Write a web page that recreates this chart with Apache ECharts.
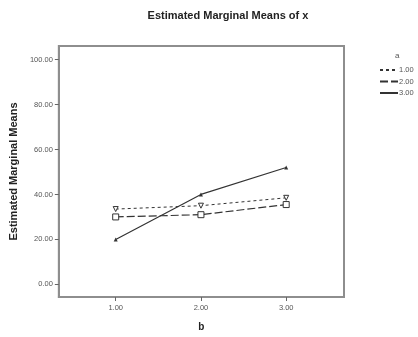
<!DOCTYPE html>
<html>
<head>
<meta charset="utf-8">
<script src="https://cdn.jsdelivr.net/npm/echarts@6/dist/echarts.min.js"></script>
<style>
html, body { margin: 0; padding: 0; background: #fff; }
#main { width: 418px; height: 337px; }
</style>
</head>
<body>
<div id="main"></div>
<script>
// levels of b on the x axis
var bLevels = [1, 2, 3];
var yTicks = [0, 20, 40, 60, 80, 100];
// estimated marginal means per level of a
var seriesNames = ['1.00', '2.00', '3.00'];
var means_a1 = [33.5, 35, 38.5];
var means_a2 = [30, 31, 35.5];
var means_a3 = [20, 40, 52];

function pairs(vals) {
    return bLevels.map(function (b, i) { return [b, vals[i]]; });
}

var dom = document.getElementById('main');
var myChart = echarts.init(dom);
var lineColor = '#333333';
var frameColor = '#8e8e8e';
var font = 'Liberation Sans, Arial, sans-serif';

var option = {
    animation: false,
    backgroundColor: '#fff',
    title: {
        text: 'Estimated Marginal Means of x',
        left: 228,
        textAlign: 'center',
        top: 10,
        padding: 0,
        textStyle: { fontFamily: font, fontSize: 11, fontWeight: 'bold', color: '#222' }
    },
    grid: {
        left: 54, top: 46, width: 290, height: 261,
        show: true, borderColor: frameColor, borderWidth: 2
    },
    legend: {
        orient: 'vertical',
        left: 379,
        top: 66,
        padding: 0,
        itemWidth: 18,
        itemHeight: 7,
        itemGap: 3.5,
        itemStyle: { opacity: 0 },
        textStyle: { fontFamily: font, fontSize: 7.5, color: '#555', padding: [0, 0, 0, -4] },
        data: seriesNames
    },
    graphic: [{
        type: 'text',
        left: 395,
        top: 52,
        style: { text: 'a', fontFamily: font, fontSize: 8, fill: '#555' }
    }],
    xAxis: {
        type: 'value',
        min: 0.333,
        max: 3.678,
        name: 'b',
        nameLocation: 'middle',
        nameGap: 25,
        nameTextStyle: { fontFamily: font, fontSize: 10, fontWeight: 'bold', color: '#222' },
        axisLine: { show: true, onZero: false, lineStyle: { color: frameColor, width: 2 } },
        axisTick: { show: true, length: 4, customValues: bLevels, lineStyle: { color: '#666' } },
        axisLabel: {
            customValues: bLevels, margin: 7,
            fontFamily: font, fontSize: 7.5, color: '#555',
            formatter: function (v) { return v.toFixed(2); }
        },
        splitLine: { show: false }
    },
    yAxis: {
        type: 'value',
        min: -5.6,
        max: 106,
        name: 'Estimated Marginal Means',
        nameLocation: 'middle',
        nameGap: 37,
        nameTextStyle: { fontFamily: font, fontSize: 11, fontWeight: 'bold', color: '#222' },
        axisLine: { show: true, onZero: false, lineStyle: { color: frameColor, width: 2 } },
        axisTick: { show: true, length: 4, customValues: yTicks, lineStyle: { color: '#666' } },
        axisLabel: {
            customValues: yTicks, margin: 6,
            fontFamily: font, fontSize: 7.5, color: '#555',
            formatter: function (v) { return v.toFixed(2); }
        },
        splitLine: { show: false }
    },
    series: [{
        name: seriesNames[0],
        type: 'line',
        data: pairs(means_a1),
        symbol: 'triangle',
        symbolRotate: 180,
        symbolSize: 5,
        itemStyle: { color: '#fff', borderColor: lineColor, borderWidth: 1 },
        lineStyle: { color: lineColor, width: 1, type: [3, 3] }
    }, {
        name: seriesNames[1],
        type: 'line',
        data: pairs(means_a2),
        symbol: 'rect',
        symbolSize: 6,
        itemStyle: { color: '#fff', borderColor: lineColor, borderWidth: 1 },
        lineStyle: { color: lineColor, width: 1.2, type: [8, 3] }
    }, {
        name: seriesNames[2],
        type: 'line',
        data: pairs(means_a3),
        symbol: 'triangle',
        symbolSize: 4,
        itemStyle: { color: lineColor },
        lineStyle: { color: lineColor, width: 1.2 }
    }]
};

myChart.setOption(option);
</script>
</body>
</html>
